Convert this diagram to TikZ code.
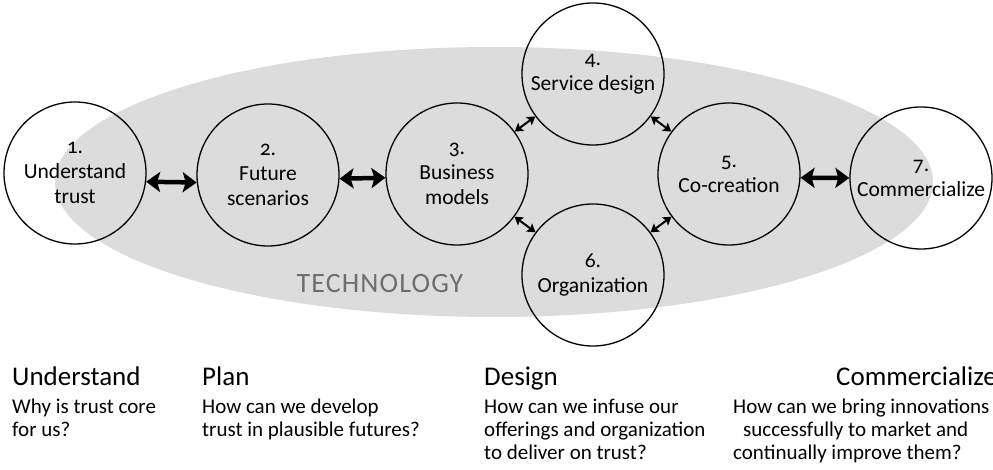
\documentclass[tikz,border=0pt]{standalone}
\usepackage{fontspec}
\setmainfont{Carlito}[Numbers=OldStyle]
\usetikzlibrary{arrows.meta,shapes.geometric}
\definecolor{techgray}{HTML}{DCDCDC}
\definecolor{techtext}{HTML}{6E6E6E}
\begin{document}
\begin{tikzpicture}[x=1pt,y=-1pt,
  stage/.style={circle,draw=black,line width=1.3pt,minimum size=142pt,inner sep=0pt,
    align=center,font=\fontsize{21.5}{25}\selectfont},
  bigarrow/.style={line width=4.5pt,
    {Stealth[length=14pt,width=20pt,inset=3pt]}-{Stealth[length=14pt,width=20pt,inset=3pt]}},
  smallarrow/.style={line width=2pt,
    {Stealth[length=8pt,width=10pt,inset=1.5pt]}-{Stealth[length=8pt,width=10pt,inset=1.5pt]}},
  heading/.style={anchor=base west,inner sep=0pt,font=\fontsize{27}{29}\selectfont},
  question/.style={anchor=base west,inner sep=0pt,align=left,font=\fontsize{21}{23}\selectfont},
  rheading/.style={heading,anchor=base east},
]
\useasboundingbox (0,0) rectangle (993,470);
\clip (0,0) rectangle (993,470);

% technology layer
\node[ellipse,fill=techgray,minimum width=878pt,minimum height=270pt,inner sep=0pt] (tech) at (494,182) {};
\node[anchor=base,inner sep=0pt,text=techtext,
  font=\fontsize{28}{30}\selectfont\addfontfeatures{LetterSpace=4}] (techlabel) at (380,293) {TECHNOLOGY};

% stages
\node[stage] (c1) at (75,173) {1.\\Understand\\trust};
\node[stage] (c2) at (268,175) {2.\\Future\\scenarios};
\node[stage] (c3) at (457,174) {3.\\Business\\models};
\node[stage] (c4) at (593,74) {4.\\Service design};
\node[stage] (c5) at (729,174) {5.\\Co-creation};
\node[stage] (c6) at (593,275) {6.\\Organization};
\node[stage] (c7) at (921,178) {7.\\Commercialize};

% connectors
\draw[bigarrow] (c1.-7) -- (c2.186);
\draw[bigarrow] (c2.-3) -- (c3.183);
\draw[bigarrow] (c5.-3) -- (c7.180);
\draw[smallarrow] (c3) -- (c4);
\draw[smallarrow] (c4) -- (c5);
\draw[smallarrow] (c3) -- (c6);
\draw[smallarrow] (c6) -- (c5);

% phases (a multi-line node sits on the baseline of its last line)
\node[heading] (h1) at (12,385) {Understand};
\node[question] (q1) at (12,436) {Why is trust core\\for us?};
\node[heading] (h2) at (202,385) {Plan};
\node[question] (q2) at (202,436) {How can we develop\\trust in plausible futures?};
\node[heading] (h3) at (484,385) {Design};
\node[question] (q3) at (484,459) {How can we infuse our\\offerings and organization\\to deliver on trust?};
\node[rheading] (h4) at (997,385) {Commercialize};
\node[question] (q4) at (733,459) {How can we bring innovations\\\hspace*{10pt}successfully to market and\\continually improve them?};
\end{tikzpicture}
\end{document}
